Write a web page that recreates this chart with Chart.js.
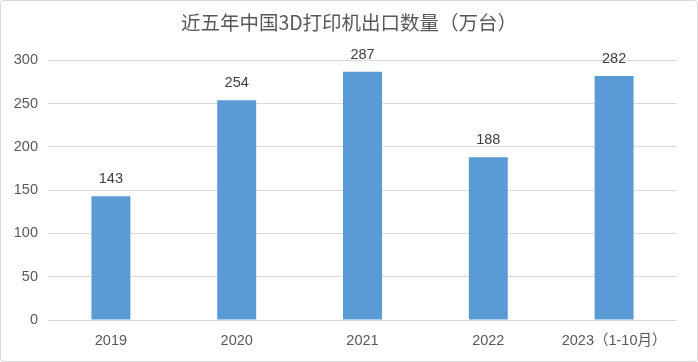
<!DOCTYPE html>
<html>
<head>
<meta charset="utf-8">
<script src="https://cdn.jsdelivr.net/npm/chart.js@4/dist/chart.umd.min.js"></script>
<style>
    body { margin: 0; background: #fff; }
    #box {
        width: 698px; height: 362px; box-sizing: border-box;
        border: 1px solid #d9d9d9; border-radius: 4px; position: relative;
    }
    #box canvas { position: absolute; left: 0; top: 0; }
</style>
</head>
<body>
<div id="box"><canvas id="myChart"></canvas></div>
<script>
const years = ['2019', '2020', '2021', '2022', '2023（1-10月）']
const exportAmount = [143, 254, 287, 188, 282]
const yTicks = [0, 50, 100, 150, 200, 250, 300]

const fontFamily = '"Liberation Sans", Arial, "Noto Sans CJK SC", sans-serif'

// value labels above the bars
const barLabels = {
    id: 'barLabels',
    afterDatasetsDraw(chart) {
        const ctx = chart.ctx
        const meta = chart.getDatasetMeta(0)
        ctx.save()
        ctx.font = '14.5px ' + fontFamily
        ctx.fillStyle = '#404040'
        ctx.textAlign = 'center'
        ctx.textBaseline = 'alphabetic'
        meta.data.forEach(function (bar, i) {
            ctx.fillText(exportAmount[i], bar.x, bar.y - 13)
        })
        ctx.restore()
    }
}

let ctx = document.getElementById('myChart')
const data = {
    labels: years,
    datasets: [{
        label: '出口数量',
        data: exportAmount,
        backgroundColor: '#5b9bd5',
        categoryPercentage: 1,
        barPercentage: 0.31,
    }]
}

const config = {
    type: 'bar',
    data: data,
    plugins: [barLabels],
    options: {
        responsive: false,
        animation: false,
        layout: { padding: 0 },
        plugins: {
            legend: { display: false },
            tooltip: { enabled: false },
            title: {
                display: true,
                text: '近五年中国3D打印机出口数量（万台）',
                color: '#595959',
                font: { size: 19.5, family: '"Noto Sans CJK SC", sans-serif', weight: 'normal' },
                padding: { top: 10, bottom: 26 }
            }
        },
        scales: {
            x: {
                grid: { display: false },
                border: { display: false },
                ticks: {
                    color: '#595959',
                    font: { size: 14.5, family: fontFamily },
                    padding: 4,
                    maxRotation: 0
                },
                afterFit(scale) { scale.height = 41 }
            },
            y: {
                min: 0,
                max: 300,
                grid: { color: '#d9d9d9', drawTicks: false },
                border: { display: false },
                ticks: {
                    stepSize: 50,
                    color: '#595959',
                    font: { size: 14.5, family: fontFamily },
                    padding: 10,
                    callback: function (v) { return yTicks.includes(v) ? v : '' }
                },
                afterFit(scale) { scale.width = 47 }
            },
            // empty right axis, only keeps the right margin
            yRight: {
                position: 'right',
                grid: { display: false },
                border: { display: false },
                ticks: { display: false },
                afterFit(scale) { scale.width = 20 }
            }
        }
    }
}

const canvas = document.getElementById('myChart')
canvas.width = 696
canvas.height = 360
canvas.style.width = '696px'
canvas.style.height = '360px'
const myChart = new Chart(ctx, config)
</script>
</body>
</html>
